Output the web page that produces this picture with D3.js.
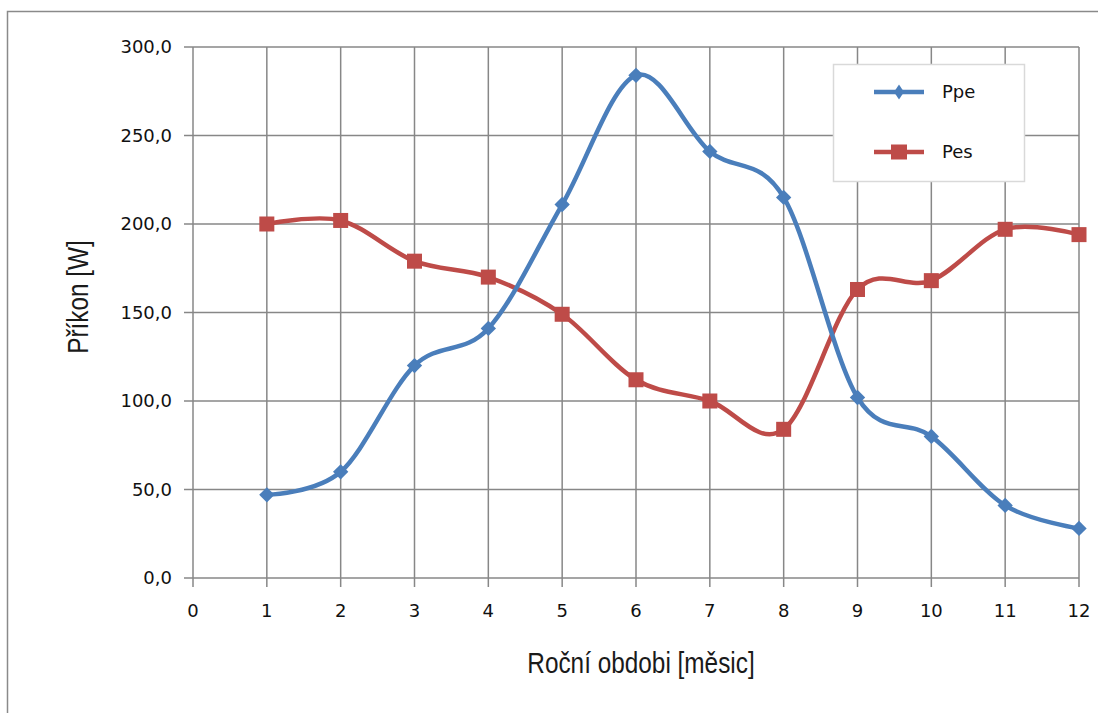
<!DOCTYPE html>
<html>
<head>
<meta charset="utf-8">
<script src="https://cdn.jsdelivr.net/npm/d3@7"></script>
<style>
  body { margin: 0; background: #fff; }
  svg { display: block; }
</style>
</head>
<body>
<svg id="chart" width="1098" height="713"></svg>
<script>
// months on the x axis
var months = [1, 2, 3, 4, 5, 6, 7, 8, 9, 10, 11, 12];
// series values
var ppe = [47, 60, 120, 141, 211, 284, 241, 215, 102, 80, 41, 28];
var pes = [200, 202, 179, 170, 149, 112, 100, 84, 163, 168, 197, 194];
var seriesNames = ["Ppe", "Pes"];
var xTicks = [0, 1, 2, 3, 4, 5, 6, 7, 8, 9, 10, 11, 12];
var yTicks = [0, 50, 100, 150, 200, 250, 300];

var blue = "#4a7ebb", red = "#be4b48", grid = "#878787";

var svg = d3.select("#chart");

// outer frame (right and bottom edges run off the picture)
svg.append("rect")
  .attr("x", 7.5).attr("y", 11.5)
  .attr("width", 1300).attr("height", 900)
  .attr("fill", "none").attr("stroke", "#8a8a8a").attr("stroke-width", 1.5);

var x = d3.scaleLinear().domain([0, 12]).range([193, 1079]);
var y = d3.scaleLinear().domain([0, 300]).range([578, 47]);

var g = svg.append("g");

// vertical gridlines + ticks
g.selectAll("line.vg")
  .data(xTicks)
  .enter()
  .append("line")
  .attr("x1", function(d){ return x(d); })
  .attr("x2", function(d){ return x(d); })
  .attr("y1", y(300))
  .attr("y2", y(0) + 9)
  .attr("stroke", grid).attr("stroke-width", 1.5);

// horizontal gridlines + ticks
g.selectAll("line.hg")
  .data(yTicks)
  .enter()
  .append("line")
  .attr("x1", x(0) - 9)
  .attr("x2", x(12))
  .attr("y1", function(d){ return y(d); })
  .attr("y2", function(d){ return y(d); })
  .attr("stroke", grid).attr("stroke-width", 1.5);

// tick labels
g.selectAll("text.xl")
  .data(xTicks)
  .enter()
  .append("text")
  .attr("x", function(d){ return x(d); })
  .attr("y", 617)
  .attr("text-anchor", "middle")
  .style("font-family", "DejaVu Sans")
  .style("font-size", "18px")
  .attr("fill", "#111")
  .text(function(d){ return d; });

g.selectAll("text.yl")
  .data(yTicks)
  .enter()
  .append("text")
  .attr("x", 172)
  .attr("y", function(d){ return y(d); })
  .attr("dy", "0.36em")
  .attr("text-anchor", "end")
  .style("font-family", "DejaVu Sans")
  .style("font-size", "18px")
  .attr("fill", "#111")
  .text(function(d){ return d3.format(".1f")(d).replace(".", ","); });

// axis titles (narrow, tall lettering)
svg.append("text")
  .attr("transform", "translate(641,673) scale(0.84,1)")
  .attr("text-anchor", "middle")
  .style("font-family", "Liberation Sans")
  .style("font-size", "29px")
  .attr("fill", "#1a1a1a")
  .text("Roční obdobi [měsic]");

svg.append("text")
  .attr("transform", "translate(88,297) rotate(-90) scale(0.84,1)")
  .attr("text-anchor", "middle")
  .style("font-family", "Liberation Sans")
  .style("font-size", "29px")
  .attr("fill", "#1a1a1a")
  .text("Příkon [W]");

// smoothed lines
var line = d3.line()
  .x(function(d, i){ return x(months[i]); })
  .y(function(d){ return y(d); })
  .curve(d3.curveCardinal.tension(0));

g.append("path").datum(pes)
  .attr("d", line).attr("fill", "none")
  .attr("stroke", red).attr("stroke-width", 4.5);

g.append("path").datum(ppe)
  .attr("d", line).attr("fill", "none")
  .attr("stroke", blue).attr("stroke-width", 4.5);

// markers
g.selectAll("rect.pes")
  .data(pes)
  .enter()
  .append("rect")
  .attr("x", function(d, i){ return x(months[i]) - 7.5; })
  .attr("y", function(d){ return y(d) - 7.5; })
  .attr("width", 15).attr("height", 15)
  .attr("fill", red);

var diamond = d3.symbol().type(d3.symbolDiamond2).size(150);
g.selectAll("path.ppe")
  .data(ppe)
  .enter()
  .append("path")
  .attr("d", diamond)
  .attr("transform", function(d, i){ return "translate(" + x(months[i]) + "," + y(d) + ")"; })
  .attr("fill", blue);

// legend
var leg = svg.append("g");
leg.append("rect")
  .attr("x", 833.5).attr("y", 64.5)
  .attr("width", 191).attr("height", 117)
  .attr("fill", "#fff").attr("stroke", "#d9d9d9").attr("stroke-width", 1.5);

var legY = [92, 152];
var legColors = [blue, red];
seriesNames.forEach(function(name, i){
  leg.append("line")
    .attr("x1", 874).attr("x2", 924)
    .attr("y1", legY[i]).attr("y2", legY[i])
    .attr("stroke", legColors[i]).attr("stroke-width", 4.5);
  if (i === 0) {
    leg.append("path")
      .attr("d", "M0,-7.5L5,0L0,7.5L-5,0Z")
      .attr("transform", "translate(899," + legY[i] + ")")
      .attr("fill", blue);
  } else {
    leg.append("rect")
      .attr("x", 891).attr("y", legY[i] - 7.5)
      .attr("width", 16).attr("height", 15)
      .attr("fill", red);
  }
  leg.append("text")
    .attr("x", 942).attr("y", legY[i])
    .attr("dy", "0.36em")
    .style("font-family", "DejaVu Sans")
    .style("font-size", "18px")
    .attr("fill", "#111")
    .text(name);
});
</script>
</body>
</html>
